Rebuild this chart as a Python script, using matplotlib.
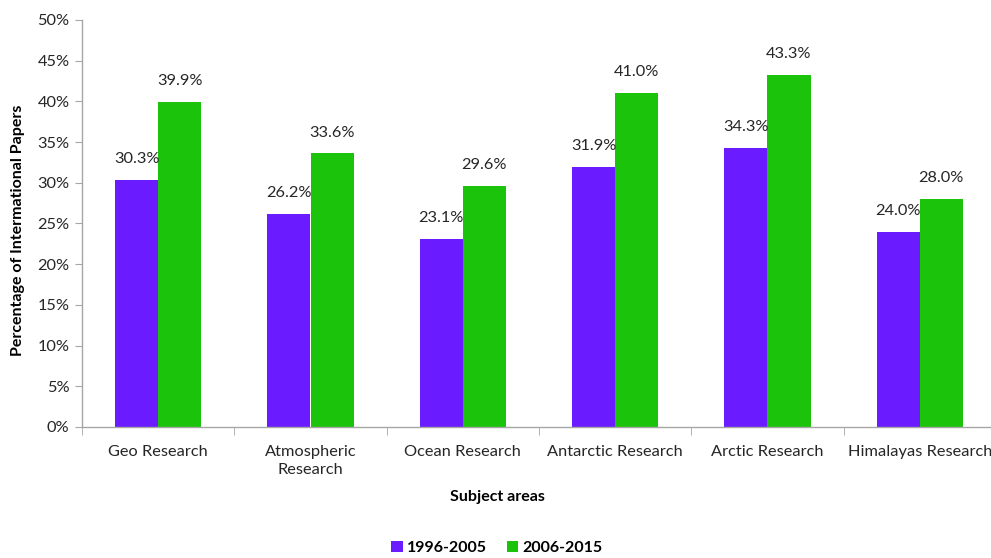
import numpy as np
import matplotlib.pyplot as plt
from matplotlib.ticker import PercentFormatter

# share of international papers by subject area
areas = ["Geo Research", "Atmospheric\nResearch", "Ocean Research",
         "Antarctic Research", "Arctic Research", "Himalayas Research"]
p_1996_2005 = [30.3, 26.2, 23.1, 31.9, 34.3, 24.0]
p_2006_2015 = [39.9, 33.6, 29.6, 41.0, 43.3, 28.0]
series_names = ["1996-2005", "2006-2015"]

PURPLE = "#6A1BFF"
GREEN = "#1BC40A"
GRID = "#A6A6A6"
FS = 11.8

plt.rcParams["font.family"] = ["Lato", "DejaVu Sans"]

fig = plt.figure(figsize=(9.91, 5.58), dpi=100)
# plot area runs past the right edge like the original export
ax = fig.add_axes([82 / 991, 131 / 558, 914 / 991, 407 / 558])

x = np.arange(len(areas))
w = 0.283
ax.bar(x - w / 2, p_1996_2005, w, color=PURPLE, label=series_names[0])
ax.bar(x + w / 2, p_2006_2015, w, color=GREEN, label=series_names[1])

for xi, v in zip(x, p_1996_2005):
    ax.annotate(f"{v:.1f}%", (xi - w / 2, v), xytext=(0, 10), textcoords="offset points",
                ha="center", va="bottom", fontsize=FS, color="#262626")
for xi, v in zip(x, p_2006_2015):
    ax.annotate(f"{v:.1f}%", (xi + w / 2, v), xytext=(0, 10), textcoords="offset points",
                ha="center", va="bottom", fontsize=FS, color="#262626")

ax.set_xlim(-0.5, len(areas) - 0.5)
ax.set_ylim(0, 50)
ax.set_yticks(np.arange(0, 51, 5))
ax.yaxis.set_major_formatter(PercentFormatter(decimals=0))

# category labels centred, ticks on the boundaries
ax.set_xticks(x)
ax.set_xticklabels(areas, fontsize=FS, color="#262626", linespacing=1.35)
ax.tick_params(axis="x", which="major", length=0, pad=13)
ax.set_xticks(np.arange(-0.5, len(areas)), minor=True)
ax.tick_params(axis="x", which="minor", length=6, color=GRID, direction="out")
ax.tick_params(axis="y", length=5, color=GRID, labelsize=FS, labelcolor="#262626", pad=4)

for side in ["top", "right"]:
    ax.spines[side].set_visible(False)
for side in ["left", "bottom"]:
    ax.spines[side].set_color(GRID)
    ax.spines[side].set_linewidth(1)

fig.text(18 / 991, 1 - 230 / 558, "Percentage of Intermational Papers", rotation=90,
         ha="center", va="center", fontsize=11.5, fontweight="bold")
fig.text(497 / 991, 1 - 497 / 558, "Subject areas", ha="center", va="center",
         fontsize=11.5, fontweight="bold")

fig.legend(loc="center", bbox_to_anchor=(497 / 991, 1 - 548 / 558), ncol=2, frameon=False,
           handlelength=0.7, handleheight=0.7, handletextpad=0.3, columnspacing=1.2,
           prop={"size": 11.5, "weight": "bold"})

fig.savefig("out.png", dpi=100)
